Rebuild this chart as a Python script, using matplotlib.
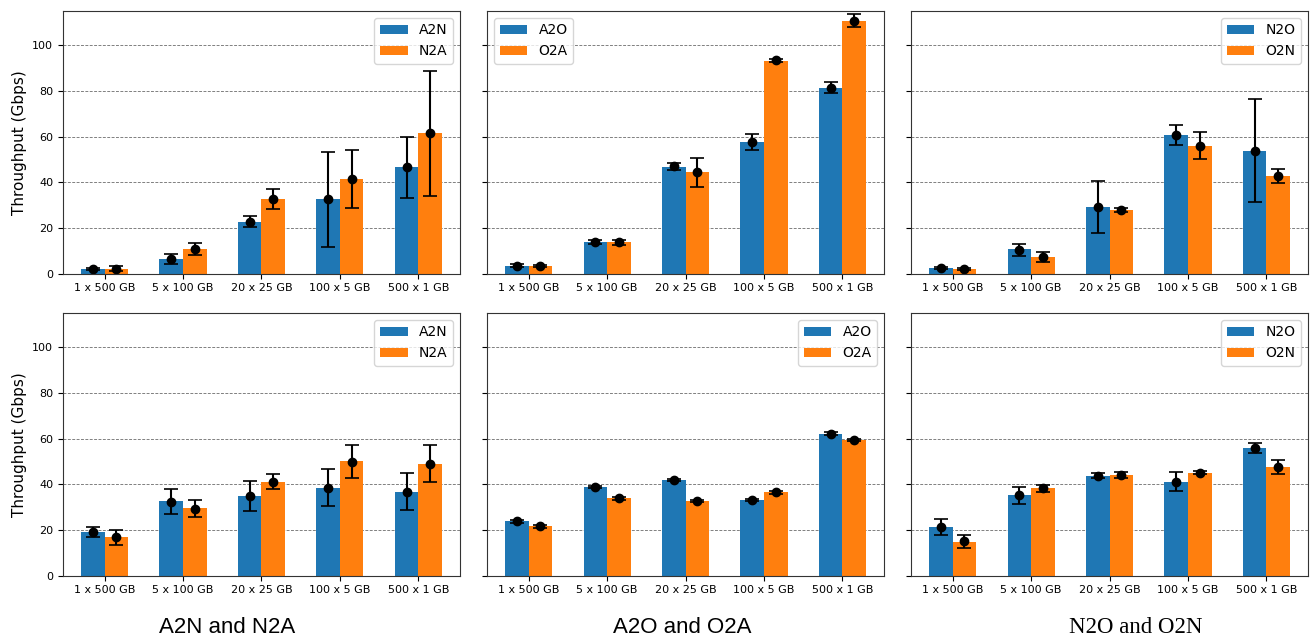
import numpy as np
import matplotlib
matplotlib.use('Agg')
import matplotlib.pyplot as plt

# categories (transfer sizes)
sizes = ['1 x 500 GB', '5 x 100 GB', '20 x 25 GB', '100 x 5 GB', '500 x 1 GB']

# top row - bar heights, point values, error sizes
a2n_bar = [1.9, 6.3, 22.5, 32.6, 46.6]
a2n_pt = [1.9, 6.4, 22.8, 32.6, 46.5]
a2n_err = [0.5, 2.3, 2.3, 20.8, 13.4]
n2a_bar = [1.9, 10.7, 32.6, 41.2, 61.5]
n2a_pt = [2.2, 10.7, 32.6, 41.4, 61.4]
n2a_err = [1.0, 2.6, 4.4, 12.9, 27.5]

a2o_bar = [3.2, 13.7, 46.6, 57.6, 81.3]
a2o_pt = [3.4, 13.9, 46.9, 57.6, 81.3]
a2o_err = [0.7, 0.8, 1.4, 3.6, 2.4]
o2a_bar = [3.2, 13.7, 44.4, 93.1, 110.7]
o2a_pt = [3.2, 13.7, 44.3, 93.3, 110.8]
o2a_err = [0.5, 1.1, 6.4, 0.6, 2.9]

n2o_bar = [2.3, 10.7, 29.1, 60.7, 53.7]
n2o_pt = [2.5, 10.5, 29.1, 60.7, 53.8]
n2o_err = [0.6, 2.6, 11.5, 4.5, 22.5]
o2n_bar = [1.9, 7.2, 27.8, 55.8, 42.7]
o2n_pt = [2.0, 7.2, 27.8, 56.0, 42.8]
o2n_err = [0.6, 2.2, 0.9, 5.8, 3.2]

# bottom row
a2n_bar2 = [19.1, 32.7, 34.9, 38.4, 36.6]
a2n_pt2 = [19.1, 32.4, 34.9, 38.4, 36.8]
a2n_err2 = [2.0, 5.6, 6.7, 8.1, 8.0]
n2a_bar2 = [16.9, 29.6, 41.0, 50.2, 48.9]
n2a_pt2 = [16.8, 29.3, 41.2, 49.9, 49.1]
n2a_err2 = [3.4, 3.7, 3.1, 7.3, 8.2]

a2o_bar2 = [23.9, 38.8, 41.8, 33.1, 62.0]
a2o_pt2 = [23.8, 38.7, 41.8, 33.0, 62.2]
a2o_err2 = [0.6, 0.5, 0.5, 0.5, 0.5]
o2a_bar2 = [21.8, 34.0, 32.7, 36.6, 59.4]
o2a_pt2 = [21.6, 33.9, 32.7, 36.5, 59.4]
o2a_err2 = [0.7, 0.6, 0.6, 0.6, 0.6]

n2o_bar2 = [21.3, 35.3, 43.6, 41.0, 55.9]
n2o_pt2 = [21.3, 35.2, 43.8, 41.2, 55.9]
n2o_err2 = [3.6, 3.8, 1.2, 4.1, 2.0]
o2n_bar2 = [14.7, 38.4, 44.1, 45.0, 47.6]
o2n_pt2 = [15.0, 38.2, 44.1, 45.1, 47.6]
o2n_err2 = [3.0, 1.5, 1.5, 0.8, 3.1]

panels = [
    # (row, col, name1, bar1, pt1, err1, name2, bar2, pt2, err2, legend loc)
    (0, 0, 'A2N', a2n_bar, a2n_pt, a2n_err, 'N2A', n2a_bar, n2a_pt, n2a_err, 'upper right'),
    (0, 1, 'A2O', a2o_bar, a2o_pt, a2o_err, 'O2A', o2a_bar, o2a_pt, o2a_err, 'upper left'),
    (0, 2, 'N2O', n2o_bar, n2o_pt, n2o_err, 'O2N', o2n_bar, o2n_pt, o2n_err, 'upper right'),
    (1, 0, 'A2N', a2n_bar2, a2n_pt2, a2n_err2, 'N2A', n2a_bar2, n2a_pt2, n2a_err2, 'upper right'),
    (1, 1, 'A2O', a2o_bar2, a2o_pt2, a2o_err2, 'O2A', o2a_bar2, o2a_pt2, o2a_err2, 'upper right'),
    (1, 2, 'N2O', n2o_bar2, n2o_pt2, n2o_err2, 'O2N', o2n_bar2, o2n_pt2, o2n_err2, 'upper right'),
]

fig, axes = plt.subplots(2, 3, figsize=(13.12, 6.42), dpi=100, sharey=True)
fig.subplots_adjust(left=0.048, right=0.997, top=0.983, bottom=0.1033, wspace=0.068, hspace=0.15)

x = np.arange(len(sizes))
w = 0.3
for row, col, n1, b1, p1, e1, n2, b2, p2, e2, loc in panels:
    ax = axes[row, col]
    ax.set_axisbelow(True)
    ax.yaxis.grid(True, linestyle=(0, (3, 1.5)), color='gray', linewidth=0.7)
    ax.bar(x - w/2, b1, w, color='#1f77b4', label=n1)
    ax.bar(x + w/2, b2, w, color='#ff7f0e', label=n2)
    ax.errorbar(x - w/2, p1, yerr=e1, fmt='o', color='black', ecolor='black',
                elinewidth=1.5, capsize=5, capthick=1.2, markersize=6)
    ax.errorbar(x + w/2, p2, yerr=e2, fmt='o', color='black', ecolor='black',
                elinewidth=1.5, capsize=5, capthick=1.2, markersize=6)
    ax.set_xticks(x)
    ax.set_xticklabels(sizes, fontsize=8)
    ax.tick_params(axis='y', labelsize=8)
    ax.set_ylim(0, 115)
    ax.set_yticks([0, 20, 40, 60, 80, 100])
    ax.legend(loc=loc, fontsize=10)
    for s in ax.spines.values():
        s.set_color('#333333')
    if col == 0:
        ax.set_ylabel('Throughput (Gbps)', fontsize=11)

fig.text(0.173, 0.022, 'A2N and N2A', fontsize=16, family='Liberation Sans', ha='center', va='center')
fig.text(0.52, 0.022, 'A2O and O2A', fontsize=16, family='Liberation Sans', ha='center', va='center')
fig.text(0.866, 0.022, 'N2O and O2N', fontsize=16.5, family='Liberation Serif', ha='center', va='center')

plt.savefig('out.png', dpi=100)
